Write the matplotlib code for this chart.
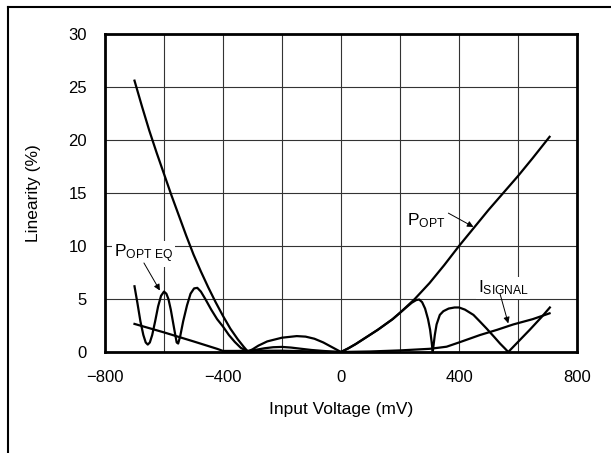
import matplotlib.pyplot as plt
from matplotlib.lines import Line2D
from matplotlib.ticker import MultipleLocator

plt.rcParams['font.family'] = ['Liberation Sans', 'DejaVu Sans']
plt.rcParams['mathtext.default'] = 'regular'

# P_OPT
popt_x = [-700, -675, -650, -625, -600, -575, -550, -525, -500, -475, -450, -425,
          -400, -375, -350, -330, -316, -300, -280, -250, -200, -150, -120, -90,
          -60, -30, 0, 25, 50, 75, 100, 125, 150, 175, 200, 225, 250, 275, 300,
          350, 400, 450, 500, 550, 600, 650, 707]
popt_y = [25.6, 23.2, 20.9, 18.8, 16.8, 14.8, 12.9, 11.0, 9.2, 7.6, 6.1, 4.7,
          3.4, 2.2, 1.2, 0.5, 0.05, 0.25, 0.6, 1.0, 1.35, 1.5, 1.45, 1.25,
          0.9, 0.45, 0.0, 0.35, 0.75, 1.2, 1.65, 2.1, 2.6, 3.1, 3.7, 4.35, 5.0, 5.75, 6.5,
          8.2, 10.0, 11.7, 13.4, 15.0, 16.6, 18.3, 20.3]

# P_OPT EQ
pe_x = [-700, -690, -680, -670, -662, -655, -648, -640, -630, -620, -610, -600,
        -592, -585, -577, -570, -563, -557, -552, -545, -535, -522, -510, -498,
        -487, -475, -460, -440, -420, -400, -380, -360, -340, -316, -290, -260,
        -230, -200, -170, -140, -100, -60, -30, 0, 25, 50, 75, 100, 125, 150, 175,
        200, 225, 240, 255, 265, 275, 285, 295, 302, 307, 311, 314, 318, 324, 335,
        347, 365, 385, 400, 420, 449, 470, 494, 520, 539, 555, 567, 600, 640, 680, 708]
pe_y = [6.2, 4.6, 2.9, 1.6, 0.9, 0.7, 0.9, 1.6, 2.9, 4.3, 5.3, 5.7,
        5.5, 5.0, 4.0, 2.9, 1.8, 0.9, 0.8, 1.5, 2.9, 4.4, 5.5, 6.0,
        6.05, 5.7, 5.0, 4.0, 3.1, 2.4, 1.6, 0.95, 0.4, 0.05, 0.2, 0.35,
        0.45, 0.48, 0.42, 0.32, 0.19, 0.1, 0.04, 0.0, 0.35, 0.75, 1.2, 1.65, 2.1, 2.6, 3.1,
        3.7, 4.3, 4.65, 4.9, 4.95, 4.7, 4.1, 3.1, 2.1, 1.0, 0.0, 0.7, 1.6, 2.6, 3.5,
        3.85, 4.1, 4.2, 4.2, 4.0, 3.5, 2.9, 2.2, 1.4, 0.8, 0.35, 0.0, 0.95, 2.1, 3.3, 4.2]

# I_SIGNAL
isig_x = [-700, -600, -500, -420, -400, -350, -300, -200, -100, 0, 100, 200,
          300, 330, 358, 400, 471, 530, 584, 650, 707]
isig_y = [2.65, 1.85, 1.0, 0.3, 0.1, 0.1, 0.12, 0.12, 0.06, 0.0, 0.05, 0.15,
          0.3, 0.4, 0.5, 0.9, 1.6, 2.1, 2.6, 3.1, 3.65]

fig = plt.figure(figsize=(6.11, 4.53), dpi=100)
ax = fig.add_axes([105/611, 1 - 352/453, 472/611, 318/453])

for xs, ys in [(popt_x, popt_y), (pe_x, pe_y), (isig_x, isig_y)]:
    ax.plot(xs, ys, color='black', lw=1.6, zorder=3, solid_joinstyle='round')

ax.set_xlim(-800, 800)
ax.set_ylim(0, 30)
ax.xaxis.set_major_locator(MultipleLocator(400))
ax.xaxis.set_minor_locator(MultipleLocator(200))
ax.yaxis.set_major_locator(MultipleLocator(5))
ax.grid(True, which='both', color='#333333', lw=0.8)
ax.tick_params(which='both', length=0, pad=13, labelsize=12)
for s in ax.spines.values():
    s.set_linewidth(2)
    s.set_zorder(4)

ax.set_xlabel('Input Voltage (mV)', fontsize=12.5, labelpad=12)
ax.set_ylabel('Linearity (%)', fontsize=12.5, labelpad=20)

box = dict(facecolor='white', edgecolor='none', pad=1)
arr = dict(arrowstyle='-|>', color='black', lw=0.7, mutation_scale=9, shrinkA=0, shrinkB=0)
ax.text(225, 12.0, '$P_{OPT}$', fontsize=12.5, zorder=5, bbox=box)
ax.annotate('', xy=(449, 11.8), xytext=(364, 13.1), arrowprops=arr, zorder=5)
ax.text(-770, 8.9, '$P_{OPT\\ EQ}$', fontsize=12.5, zorder=5, bbox=box)
ax.annotate('', xy=(-614, 5.8), xytext=(-668, 8.4), arrowprops=arr, zorder=5)
ax.text(463, 5.6, '$I_{SIGNAL}$', fontsize=12.5, zorder=5, bbox=box)
ax.annotate('', xy=(567, 2.7), xytext=(539, 5.5), arrowprops=arr, zorder=5)

# page frame
fig.add_artist(Line2D([8/611, 8/611], [0, 1 - 7/453], color='black', lw=1.5))
fig.add_artist(Line2D([8/611, 1], [1 - 7/453, 1 - 7/453], color='black', lw=1.5))

fig.savefig('out.png', dpi=100)
